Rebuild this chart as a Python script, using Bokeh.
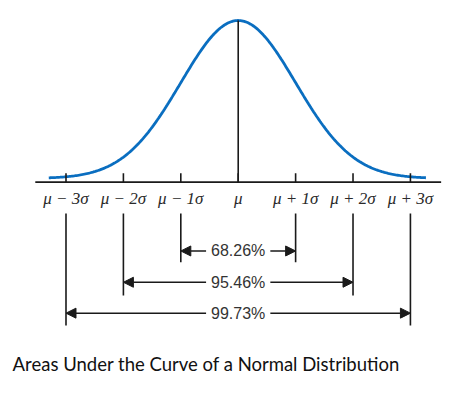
import numpy as np
from bokeh.plotting import figure
from bokeh.models import ColumnDataSource, Arrow, NormalHead, Range1d
from bokeh.core.properties import value
from bokeh.embed import file_html
from bokeh.resources import INLINE

# ---- data ----
sigma_pos = [-3, -2, -1, 0, 1, 2, 3]
tick_labels = ["μ − 3σ", "μ − 2σ", "μ − 1σ", "μ", "μ + 1σ", "μ + 2σ", "μ + 3σ"]
band_k = [1, 2, 3]
band_pct = ["68.26%", "95.46%", "99.73%"]
caption = "Areas Under the Curve of a Normal Distribution"

# curve samples (standard normal density)
xs = np.linspace(-3.3, 3.27, 300)
ys = np.exp(-xs**2 / 2) / np.sqrt(2 * np.pi)

# layout levels (in plot units)
AXIS_Y = -0.0093
TICK_TOP = 0.013
LABEL_Y = -0.051
GUIDE_TOP = -0.0884
GUIDE_BOTTOM = {1: -0.2114, 2: -0.2955, 3: -0.371}
ROW_Y = {1: -0.183, 2: -0.262, 3: -0.340}
CAPTION_X = -3.93
CAPTION_Y = -0.468

p = figure(width=452, height=381, output_backend="svg", toolbar_location=None,
           x_range=Range1d(-4.141, 3.733), y_range=Range1d(-0.5126, 0.4495),
           min_border=0)
p.axis.visible = False
p.grid.visible = False
p.outline_line_color = None
p.background_fill_color = "white"

INK = "#1a1a1a"

# normal curve
p.line(xs, ys, line_color="#0A6EC0", line_width=2.8)

# baseline axis
p.segment(x0=[-3.535], y0=[AXIS_Y], x1=[3.535], y1=[AXIS_Y], line_color=INK, line_width=1.8)

# ticks
p.segment(x0=sigma_pos, y0=[AXIS_Y] * 7, x1=sigma_pos, y1=[TICK_TOP] * 7,
          line_color=INK, line_width=1.6)

# center line to peak
peak = 1 / np.sqrt(2 * np.pi)
p.segment(x0=[0], y0=[AXIS_Y], x1=[0], y1=[peak], line_color=INK, line_width=1.6)

# tick labels
p.text(x=sigma_pos, y=[LABEL_Y] * 7, text=tick_labels, text_align="center",
       text_baseline="middle", text_font=value("Liberation Serif"),
       text_font_style="italic", text_font_size="17px", text_color="#2a2a2a")

# guide lines
gx, gy0, gy1 = [], [], []
for k in band_k:
    for s in (-k, k):
        gx.append(s)
        gy0.append(GUIDE_TOP)
        gy1.append(GUIDE_BOTTOM[k])
p.segment(x0=gx, y0=gy0, x1=gx, y1=gy1, line_color=INK, line_width=1.6)

# arrows
src = ColumnDataSource(dict(xs=[-k for k in band_k], xe=[k for k in band_k],
                            y=[ROW_Y[k] for k in band_k]))
arr = Arrow(x_start="xs", y_start="y", x_end="xe", y_end="y", source=src,
            line_color=INK, line_width=1.5, level="underlay",
            start=NormalHead(size=10, fill_color=INK, line_color=INK, line_width=1),
            end=NormalHead(size=10, fill_color=INK, line_color=INK, line_width=1))
p.add_layout(arr)

pct = p.text(x=[0] * 3, y=[ROW_Y[k] for k in band_k], text=band_pct, text_align="center",
             text_baseline="middle", text_font=value("Liberation Sans"),
             text_font_size="16px", text_color="#333333",
             background_fill_color="white", padding=5)
pct.level = "overlay"

# caption
p.text(x=[CAPTION_X], y=[CAPTION_Y], text=[caption], text_align="left",
       text_baseline="middle", text_font=value("Lato"), text_font_size="18.5px",
       text_color="#111111")

open("out.html", "w").write(file_html(p, INLINE))
